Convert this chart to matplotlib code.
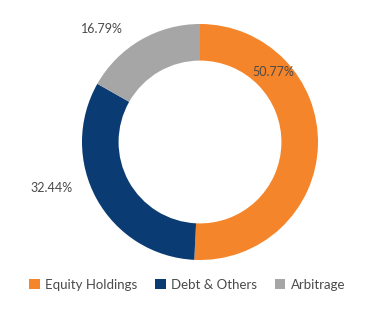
import numpy as np
import matplotlib.pyplot as plt
from matplotlib.patches import Patch

# Datos del gráfico
categorias = ['Equity Holdings', 'Debt & Others', 'Arbitrage']
porcentajes = [50.77, 32.44, 16.79]
colores = ['#F5852A', '#0B3B73', '#A6A6A6']

# Posición de cada etiqueta (ángulo en grados, radio relativo)
pos_etiquetas = [(44, 0.86), (197, 1.32), (131, 1.27)]

plt.rcParams['font.family'] = ['Lato', 'DejaVu Sans']

fig = plt.figure(figsize=(3.69, 3.32), dpi=100)
cx, cy, r = 200, 142, 118
ax = fig.add_axes([(cx - r) / 369, (332 - cy - r) / 332, 2 * r / 369, 2 * r / 332])

ax.pie(porcentajes, colors=colores, startangle=90, counterclock=False,
       radius=1, wedgeprops=dict(width=0.31, linewidth=0))
ax.set_xlim(-1, 1)
ax.set_ylim(-1, 1)
ax.axis('off')

for valor, (ang, rr) in zip(porcentajes, pos_etiquetas):
    a = np.deg2rad(ang)
    ax.text(rr * np.cos(a), rr * np.sin(a), f'{valor:.2f}%', ha='center', va='center',
            fontsize=9, color='#4a4a4a')

# Leyenda inferior
handles = [Patch(facecolor=c, edgecolor='none') for c in colores]
fig.legend(handles, categorias, loc='center', bbox_to_anchor=(0.507, 0.142), ncol=3,
           frameon=False, fontsize=9.5, handlelength=0.8, handleheight=0.8,
           handletextpad=0.4, columnspacing=1.35, labelcolor='#4a4a4a')

fig.savefig('out.png', dpi=100)
